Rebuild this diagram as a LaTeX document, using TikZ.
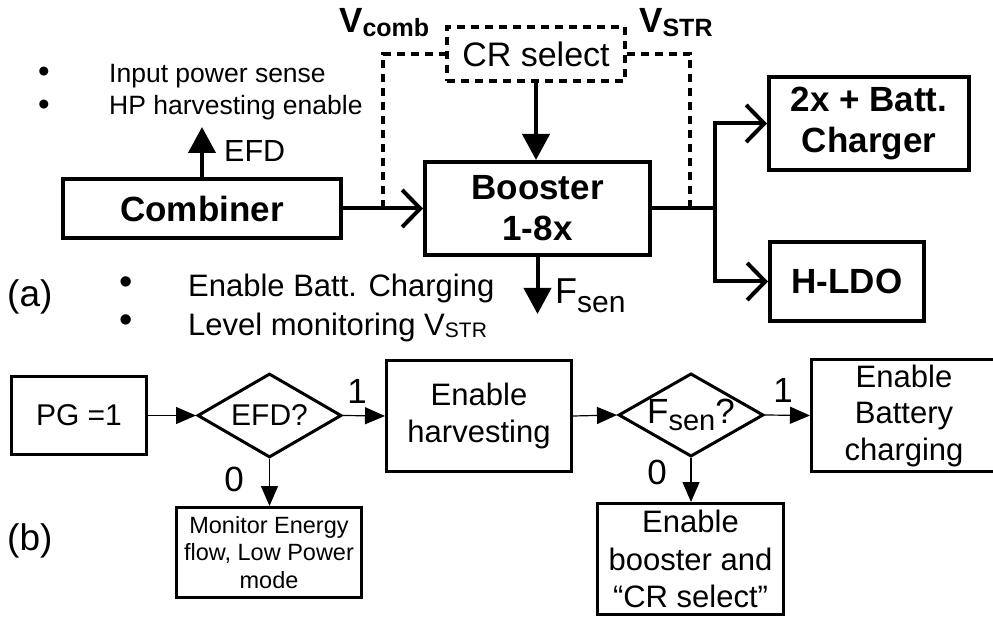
\documentclass[tikz,border=0pt]{standalone}
\usepackage{fontspec}
\setmainfont{Liberation Sans}
\usetikzlibrary{arrows.meta,shapes.geometric}
\begin{document}
\begin{tikzpicture}[x=1pt,y=-1pt,
  blk/.style={draw,line width=4pt,inner sep=0pt,align=center,font=\fontsize{35}{41}\selectfont\bfseries},
  dsh/.style={line width=4pt,dash pattern=on 8pt off 6pt},
  wire/.style={line width=4pt},
  barb/.style={wire,-{Straight Barb[length=18pt,width=37pt]}},
  tri/.style={line width=4pt,-{Triangle[length=26pt,width=27pt]}},
  fbox/.style={draw,line width=3pt,inner sep=0pt,align=center,font=\fontsize{31}{37}\selectfont},
  dia/.style={draw,diamond,line width=3pt,inner sep=0pt,aspect=1.7,font=\fontsize{30}{36}\selectfont},
  thinarr/.style={line width=1.2pt,-{Triangle[length=20pt,width=17pt]}},
  lbl/.style={inner sep=0pt},
  txa/.style={lbl,anchor=base west,font=\fontsize{31}{31}\selectfont},
  txs/.style={lbl,anchor=base west,font=\fontsize{26.5}{26.5}\selectfont},
  bul/.style={lbl,font=\fontsize{38}{38}\selectfont},
  bulsm/.style={lbl,font=\fontsize{33}{33}\selectfont},
  num/.style={lbl,font=\fontsize{35}{35}\selectfont},
]
\useasboundingbox (0,0) rectangle (993,620);

% ---------- (a) ----------
\node[blk,minimum width=278pt,minimum height=59pt] (comb) at (202,208.5) {Combiner};
\node[blk,minimum width=225pt,minimum height=93pt] (boost) at (537.5,208.5) {Booster\\1-8x};
\node[blk,minimum width=200pt,minimum height=93pt] (chg) at (869,123.5) {2x + Batt.\\Charger};
\node[blk,minimum width=154pt,minimum height=79pt] (ldo) at (847,281.5) {H-LDO};
\node[draw,dsh,inner sep=0pt,minimum width=178pt,minimum height=54pt,font=\fontsize{34}{34}\selectfont] (cr) at (536,54) {CR select};

\draw[barb] (comb.east) -- (boost.west);
\coordinate (vc) at (383,208.5);
\draw[dsh] (vc) |- (cr.west);
\coordinate (vs) at (690,208.5);
\draw[dsh] (vs) |- (cr.east);
\draw[tri] (cr.south) -- (cr.south |- boost.north);
\coordinate (jb) at (715,208.5);
\draw[wire] (boost.east) -- (jb);
\draw[barb] (jb) |- (chg.west);
\draw[barb] (jb) |- (ldo.west);
\coordinate (efd) at (202,127);
\draw[tri] (comb.north) -- (efd);
\coordinate (fs) at (537.5,314);
\draw[tri] (boost.south) -- (fs);

\node[lbl,anchor=base west,font=\fontsize{30.5}{30.5}\selectfont] (efdl) at (224,162) {EFD};
\node[lbl,anchor=base west,font=\fontsize{35}{35}\selectfont\bfseries] (vcl) at (339,33) {V\raisebox{-4pt}{\fontsize{25}{25}\selectfont\bfseries comb}};
\node[lbl,anchor=base west,font=\fontsize{35}{35}\selectfont\bfseries] (vsl) at (639,33) {V\raisebox{-4pt}{\fontsize{25}{25}\selectfont\bfseries STR}};
\node[lbl,anchor=base west,font=\fontsize{36}{36}\selectfont] (fsl) at (555,304) {F\raisebox{-9pt}{\fontsize{30}{30}\selectfont sen}};

\node[bulsm] (bu1) at (44,75) {•};
\node[bulsm] (bu2) at (44,108) {•};
\node[txs] (t1) at (109,83) {Input power sense};
\node[txs] (t2) at (109,115) {HP harvesting enable};

\node[bul] (bu3) at (126,286) {•};
\node[bul] (bu4) at (126,324) {•};
\node[txa] (t3) at (188,297) {Enable Batt. Charging};
\node[txa] (t4) at (188,335) {Level monitoring V\raisebox{-2pt}{\fontsize{21}{21}\selectfont STR}};

\node[lbl,anchor=base west,font=\fontsize{37}{37}\selectfont] (la) at (7,307) {(a)};
\node[lbl,anchor=base west,font=\fontsize{37}{37}\selectfont] (lb) at (7,550) {(b)};

% ---------- (b) ----------
\node[fbox,minimum width=135pt,minimum height=78pt,font=\fontsize{30}{30}\selectfont] (pg) at (79,415.5) {PG =1};
\node[dia,minimum width=144pt,minimum height=84pt] (d1) at (269.5,415.5) {EFD?};
\node[fbox,minimum width=185pt,minimum height=111pt] (hv) at (479,416) {Enable\\harvesting};
\node[dia,minimum width=145pt,minimum height=83pt,font=\fontsize{35}{35}\selectfont] (d2) at (691,415) {\raisebox{-3pt}{F\raisebox{-7pt}{\fontsize{29}{29}\selectfont sen}?}};
\node[fbox,minimum width=185pt,minimum height=112pt,font=\fontsize{31}{36.5}\selectfont] (bat) at (904,415.5) {Enable\\Battery\\charging};
\node[fbox,minimum width=185pt,minimum height=90pt,font=\fontsize{23.5}{27.5}\selectfont] (mon) at (269,552.5) {Monitor Energy\\flow, Low Power\\mode};
\node[fbox,minimum width=186pt,minimum height=111pt,font=\fontsize{31}{37.5}\selectfont] (ebc) at (690.5,559) {Enable\\booster and\\“CR select”};

\draw[thinarr] (pg.east) -- (d1.west);
\draw[thinarr] (d1.east) -- (hv.west);
\draw[thinarr] (hv.east) -- (d2.west);
\draw[thinarr] (d2.east) -- (bat.west);
\draw[thinarr] (d1.south) -- (d1.south |- mon.north);
\draw[thinarr] (d2.south) -- (d2.south |- ebc.north);

\node[num] (n1) at (357,391) {1};
\node[num] (n2) at (783,390) {1};
\node[num] (z1) at (234,479) {0};
\node[num] (z2) at (657,472) {0};
\end{tikzpicture}
\end{document}
